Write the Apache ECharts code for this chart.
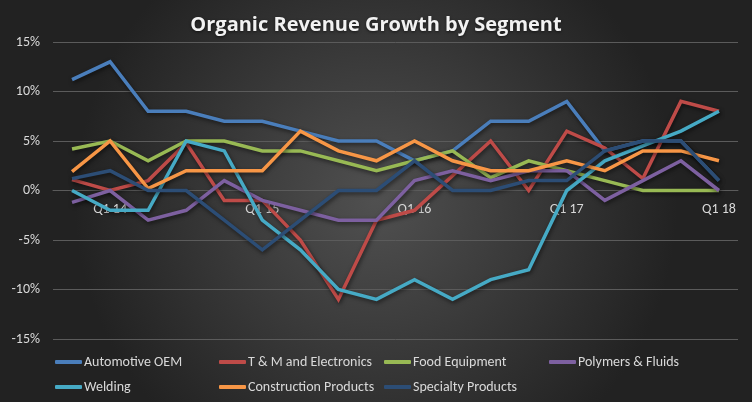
<!DOCTYPE html>
<html>
<head>
<meta charset="utf-8">
<script src="https://cdn.jsdelivr.net/npm/echarts@6/dist/echarts.min.js"></script>
<style>
html,body{margin:0;padding:0;background:#2a2a2a;}
#chart{width:752px;height:402px;}
</style>
</head>
<body>
<div id="chart"></div>
<script>
const categories = ["Q4 13","Q1 14","Q2 14","Q3 14","Q4 14","Q1 15","Q2 15","Q3 15","Q4 15","Q1 16","Q2 16","Q3 16","Q4 16","Q1 17","Q2 17","Q3 17","Q4 17","Q1 18"];
const automotiveOEM = [11.2, 13, 8, 8, 7, 7, 6, 5, 5, 3, 4, 7, 7, 9, 4, 5, 5, 1];
const tmElectronics = [1.1, 0, 1, 4.8, -1, -1, -5, -11, -3, -2, 1.5, 5, 0, 6, 4.3, 1.2, 9, 8];
const foodEquipment = [4.2, 5, 3, 5, 5, 4, 4, 3, 2, 3, 4, 1.3, 3, 2, 1, 0, 0, 0];
const polymersFluids = [-1.2, 0, -3, -2, 1, -1, -2, -3, -3, 1, 2, 1, 2, 2, -1, 1, 3, 0];
const welding = [0, -2, -2, 5, 4, -3, -6, -10, -11, -9, -11, -9, -8, 0, 3, 4.5, 6, 8];
const constructionProducts = [1.9, 5, 0.2, 2, 2, 2, 6, 4, 3, 5, 3, 2, 2, 3, 2, 4, 4, 3];
const specialtyProducts = [1.2, 2, 0, 0, -3, -6, -3, 0, 0, 3, 0, 0, 1, 1, 4, 5, 5, 1];

const yMin = -15, yMax = 15, yStep = 5;

const seriesNames = ["Automotive OEM","T & M and Electronics","Food Equipment","Polymers & Fluids","Welding","Construction Products","Specialty Products"];
const seriesData = [automotiveOEM, tmElectronics, foodEquipment, polymersFluids, welding, constructionProducts, specialtyProducts];
const colors = ["#4a7ebb","#be4b48","#98b954","#7d60a0","#46aac5","#f79646","#2c4d75"];

const FONT = "Carlito, 'Liberation Sans', sans-serif";
const textColor = "#d9d9d9";

const W = 752, H = 402;
const gridTop = 42, gridBottom = 63;
const gridHeight = H - gridTop - gridBottom;
// place the category axis on the zero line of the value axis
const zeroOffset = -gridHeight * (0 - yMin) / (yMax - yMin);

const chart = echarts.init(document.getElementById('chart'), null, {renderer:'canvas'});

const legendCols = [
  {left: 50, names: ["Automotive OEM","Welding"]},
  {left: 214, names: ["T & M and Electronics","Construction Products"]},
  {left: 379, names: ["Food Equipment","Specialty Products"]},
  {left: 544, names: ["Polymers & Fluids"]}
];

chart.setOption({
  backgroundColor: {
    type: 'radial', x: 0.5, y: 0.5, r: 0.75,
    colorStops: [{offset: 0, color: '#505050'}, {offset: 1, color: '#222222'}]
  },
  color: colors,
  title: {
    text: 'Organic Revenue Growth by Segment',
    left: 'center', top: 10,
    textStyle: {
      fontFamily: "'Open Sans', sans-serif", fontWeight: 'bold', fontSize: 20,
      color: '#f2f2f2', textShadowColor: 'rgba(0,0,0,0.6)', textShadowBlur: 3, textShadowOffsetY: 1
    }
  },
  grid: {left: 53, right: 14, top: gridTop, bottom: gridBottom, containLabel: false},
  legend: legendCols.map(c => ({
    data: c.names,
    orient: 'vertical',
    left: c.left, top: 349,
    itemWidth: 27, itemHeight: 4, itemGap: 9,
    icon: 'roundRect',
    textStyle: {color: textColor, fontSize: 14, fontFamily: FONT, lineHeight: 16, padding: [0, 0, 0, -3]}
  })),
  xAxis: {
    type: 'category',
    data: categories,
    boundaryGap: true,
    position: 'bottom',
    offset: zeroOffset,
    axisLine: {show: true, onZero: false, lineStyle: {color: '#5b5b5b', width: 1}},
    axisTick: {show: false},
    splitLine: {show: false},
    axisLabel: {
      color: textColor, fontSize: 14, fontFamily: FONT, margin: 12,
      interval: (i) => i % 4 === 1
    }
  },
  yAxis: {
    type: 'value',
    min: yMin, max: yMax, interval: yStep,
    axisLine: {show: false},
    axisTick: {show: false},
    splitLine: {lineStyle: {color: '#5b5b5b', width: 1}},
    axisLabel: {color: textColor, fontSize: 14, fontFamily: FONT, margin: 13, formatter: '{value}%'}
  },
  series: seriesNames.map((n, k) => ({
    name: n,
    type: 'line',
    data: seriesData[k],
    symbol: 'none',
    smooth: false,
    lineStyle: {
      width: 3.5, color: colors[k], join: 'miter',
      shadowColor: 'rgba(0,0,0,0.55)', shadowBlur: 4, shadowOffsetX: 1, shadowOffsetY: 2
    },
    emphasis: {disabled: true}
  })),
  animation: false
});
</script>
</body>
</html>
